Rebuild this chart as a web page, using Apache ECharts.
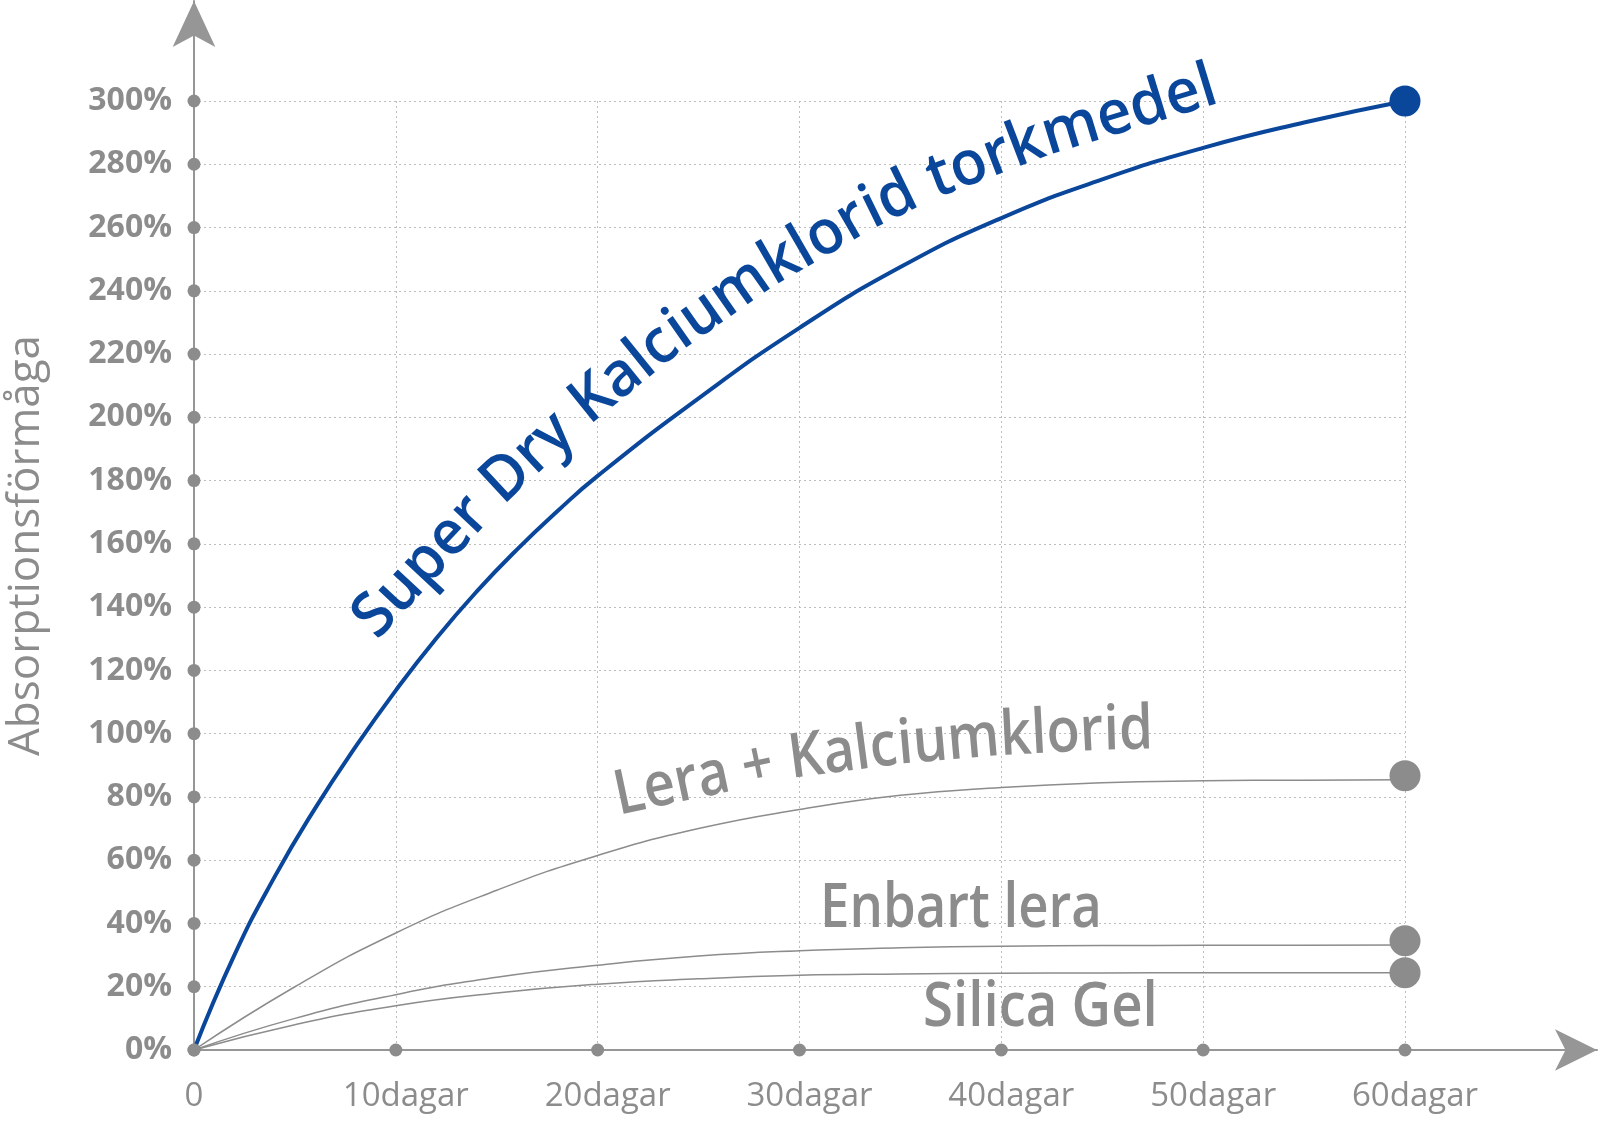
<!DOCTYPE html>
<html>
<head>
<meta charset="utf-8">
<title>Absorptionsförmåga</title>
<script src="https://cdn.jsdelivr.net/npm/echarts@6/dist/echarts.min.js"></script>
<style>
  html, body { margin: 0; padding: 0; background: #fff; }
  #chart { width: 1600px; height: 1124px; }
</style>
</head>
<body>
<div id="chart"></div>
<script>
// axlar
const xTicks = [0, 10, 20, 30, 40, 50, 60];
const xTickLabels = ['0', '10dagar', '20dagar', '30dagar', '40dagar', '50dagar', '60dagar'];
const yTicks = [0, 20, 40, 60, 80, 100, 120, 140, 160, 180, 200, 220, 240, 260, 280, 300];

// Super Dry
const superDryDays = [0, 2, 4, 6, 8, 10, 12, 14, 16, 18, 20, 25, 30, 35, 40, 45, 50, 55, 60];
const superDryValues = [0, 30, 54.8, 76.4, 95.8, 113.7, 130.1, 144.9, 158.2, 170.3, 181.5, 206, 228.3, 247.5, 263, 275.2, 285.2, 293.2, 300];

// de grå kurvorna
const grayDays = [0, 5, 10, 15, 20, 25, 30, 35, 40, 45, 50, 55, 60];
const leraKalciumValues = [0, 20, 37, 50.5, 61.5, 70, 76, 80.5, 83, 84.5, 85.1, 85.3, 85.4];
const enbartLeraValues = [0, 10, 17.5, 23, 26.8, 29.7, 31.4, 32.3, 32.8, 33, 33.1, 33.15, 33.2];
const silicaGelValues = [0, 8, 14, 18, 20.8, 22.5, 23.6, 24, 24.25, 24.35, 24.4, 24.4, 24.4];

// slutpunkter (dag 60)
const endDay = 60;
const endDotValues = [300, 86.7, 34.5, 24.4];

const seriesNames = ['Super Dry Kalciumklorid torkmedel', 'Lera + Kalciumklorid', 'Enbart lera', 'Silica Gel'];

const blue = '#0a479b';
const gray = '#8c8c8c';
const axisGray = '#969696';
const font = '"Open Sans", "Noto Sans", sans-serif';

const pairs = (xs, ys) => xs.map((x, i) => [x, ys[i]]);

// text längs kurvan: en bit i taget, baslinjen börjar vid x,y
function textChunk(str, x, y, deg, size, sx, color) {
    return {
        type: 'text',
        x: x,
        y: y,
        rotation: deg * Math.PI / 180,
        scaleX: sx,
        z: 20,
        silent: true,
        style: {
            text: str,
            x: 0,
            y: -0.388 * size,
            fill: color,
            font: '600 ' + size + 'px ' + font,
            align: 'left',
            verticalAlign: 'middle'
        }
    };
}

const measureCtx = document.createElement('canvas').getContext('2d');

// bitarna läggs efter varandra, var och en med egen vinkel
function chain(chunks, x0, y0, size, sx, color) {
    measureCtx.font = '600 ' + size + 'px ' + font;
    let x = x0, y = y0;
    return chunks.map(([str, deg]) => {
        const el = textChunk(str, x, y, deg, size, sx, color);
        const w = measureCtx.measureText(str).width * sx;
        const a = deg * Math.PI / 180;
        x += w * Math.cos(a);
        y -= w * Math.sin(a);
        return el;
    });
}

const labels = [].concat(
    chain([['Super ', 47], ['Dry ', 43], ['Kalc', 39], ['ium', 35], ['klor', 30], ['id ', 26], ['tork', 21], ['medel', 17]],
        382, 645, 62, 0.965, blue),
    chain([['Lera + ', 12], ['Kalc', 7.5], ['ium', 5], ['klor', 3], ['id', 1.5]],
        620, 821, 62, 0.88, gray),
    [
        textChunk('Enbart lera', 820, 933, 0, 62, 0.85, gray),
        textChunk('Silica Gel', 923, 1032, 0, 62, 0.88, gray)
    ]
);

const chart = echarts.init(document.getElementById('chart'));

const option = {
    animation: false,
    backgroundColor: '#fff',
    grid: [
        { left: 194, right: 195, top: 101, bottom: 74, outerBoundsMode: 'none', containLabel: false },
        { left: 194, right: 3, top: 1, bottom: 74, outerBoundsMode: 'none', containLabel: false }
    ],
    xAxis: [
        {
            type: 'value', gridIndex: 0, min: 0, max: 60, interval: 10,
            axisLine: { show: false },
            axisTick: { show: false },
            axisLabel: {
                margin: 30,
                fontSize: 33,
                fontFamily: font,
                color: gray,
                formatter: v => v === 0 ? xTickLabels[0] : '{d|' + xTickLabels[xTicks.indexOf(v)] + '}',
                rich: {
                    d: { fontSize: 33, fontFamily: font, color: gray, padding: [0, 0, 0, 20] }
                }
            },
            splitLine: { show: true, lineStyle: { type: [2, 3], color: '#bdbdbd', width: 1 } }
        },
        {
            type: 'value', gridIndex: 1, min: 0, max: 1,
            axisLine: {
                show: true, symbol: ['none', 'arrow'], symbolSize: [31, 42],
                lineStyle: { color: axisGray, width: 2 }
            },
            axisTick: { show: false },
            axisLabel: { show: false },
            splitLine: { show: false }
        }
    ],
    yAxis: [
        {
            type: 'value', gridIndex: 0, min: 0, max: 300, interval: 20,
            name: 'Absorptionsförmåga',
            nameLocation: 'middle',
            nameGap: 146,
            nameTextStyle: {
                fontSize: 44, fontFamily: font, color: gray,
                padding: [0, 0, 0, 60]
            },
            axisLine: { show: false },
            axisTick: { show: false },
            axisLabel: {
                margin: 22,
                fontSize: 32,
                fontWeight: 'bold',
                fontFamily: font,
                color: gray,
                formatter: v => v + '%'
            },
            splitLine: { show: true, lineStyle: { type: [2, 3], color: '#bdbdbd', width: 1 } }
        },
        {
            type: 'value', gridIndex: 1, min: 0, max: 1,
            axisLine: {
                show: true, symbol: ['none', 'arrow'], symbolSize: [32, 46],
                lineStyle: { color: axisGray, width: 2 }
            },
            axisTick: { show: false },
            axisLabel: { show: false },
            splitLine: { show: false }
        }
    ],
    graphic: labels,
    series: [
        {
            name: seriesNames[0], type: 'line', clip: false, z: 4,
            data: pairs(superDryDays, superDryValues),
            smooth: 0.5, showSymbol: false,
            lineStyle: { color: blue, width: 4 }
        },
        {
            name: seriesNames[1], type: 'line', clip: false, z: 3,
            data: pairs(grayDays, leraKalciumValues),
            smooth: 0.5, showSymbol: false,
            lineStyle: { color: gray, width: 1.5 }
        },
        {
            name: seriesNames[2], type: 'line', clip: false, z: 3,
            data: pairs(grayDays, enbartLeraValues),
            smooth: 0.5, showSymbol: false,
            lineStyle: { color: gray, width: 1.5 }
        },
        {
            name: seriesNames[3], type: 'line', clip: false, z: 3,
            data: pairs(grayDays, silicaGelValues),
            smooth: 0.5, showSymbol: false,
            lineStyle: { color: gray, width: 1.5 }
        },
        {
            // prickar på axlarna
            name: 'ticks', type: 'scatter', clip: false, z: 6, silent: true,
            symbolSize: 13,
            itemStyle: { color: gray, opacity: 1 },
            data: xTicks.map(d => [d, 0]).concat(yTicks.map(v => [0, v]))
        },
        {
            name: 'end', type: 'scatter', clip: false, z: 7, silent: true,
            symbolSize: 31,
            data: endDotValues.map((v, i) => ({
                value: [endDay, v],
                itemStyle: { color: i === 0 ? blue : gray, opacity: 1 }
            }))
        }
    ]
};

chart.setOption(option);
</script>
</body>
</html>
